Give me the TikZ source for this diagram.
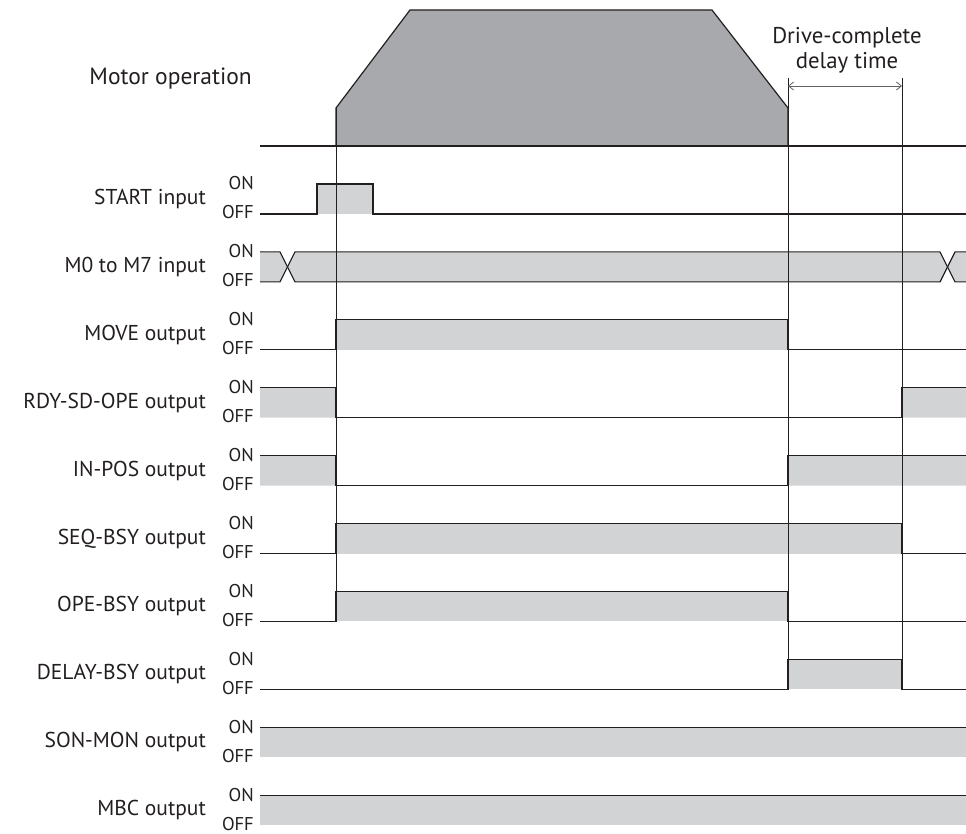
\documentclass[tikz,border=0pt]{standalone}
\usepackage{fontspec}
\setmainfont{PT Sans}
\usetikzlibrary{arrows.meta}
\definecolor{linegray}{HTML}{231F20}
\definecolor{sigfill}{HTML}{D1D3D4}
\definecolor{motorfill}{HTML}{A7A9AC}

\begin{document}
\begin{tikzpicture}[x=1pt, y=-1pt, color=linegray,
  wave/.style={draw=linegray, line width=1.2pt},
  marker/.style={draw=linegray, line width=0.9pt},
  sig/.style={fill=sigfill},
  dimarrow/.style={draw=linegray!70, line width=0.8pt, {Straight Barb[length=5pt,width=8pt]}-{Straight Barb[length=5pt,width=8pt]}},
  rowlabel/.style={anchor=east, inner sep=0pt, font=\fontsize{21.5}{26}\selectfont},
  levlabel/.style={anchor=east, inner sep=0pt, font=\fontsize{18.5}{22}\selectfont}]
\useasboundingbox (0,0) rectangle (966,834);

% signal names and levels
\node[rowlabel, font=\fontsize{23.5}{28}\selectfont] (motor) at (252,79) {Motor operation};
\foreach \i/\txt in {0/START input, 1/M0 to M7 input, 2/MOVE output,
    3/RDY-SD-OPE output, 4/IN-POS output, 5/SEQ-BSY output,
    6/OPE-BSY output, 7/DELAY-BSY output, 8/SON-MON output, 9/MBC output}{
  \pgfmathsetmacro\yon{184+67.9*\i}
  \node[rowlabel] (lbl\i) at (206,\yon+15) {\txt};
  \node[levlabel] (on\i) at (254,\yon-0.5) {ON};
  \node[levlabel] (off\i) at (254,\yon+28.5) {OFF};
}

% motor operation
\fill[motorfill] (336,146) -- (336,108) -- (410,10) -- (712,10) -- (788,108) -- (788,146) -- cycle;
\draw[wave] (260,146) -- (966,146);
\draw[wave] (336,146) -- (336,108) -- (410,10) -- (712,10) -- (788,108) -- (788,146);

% START input
\begin{scope}[shift={(0,184)}]
\fill[sig] (317,0) rectangle (373,30);
\draw[wave] (260,30) -| (317,0) -| (373,30) -- (966,30);
\end{scope}

% M0 to M7 input
\begin{scope}[shift={(0,184+67.9*1)}]
\fill[sig] (260,0) -- (280,0) -- (287.5,15) -- (295,0) -- (940,0) -- (947.5,15) -- (955,0) -- (966,0)
  -- (966,30) -- (955,30) -- (947.5,15) -- (940,30) -- (295,30) -- (287.5,15) -- (280,30) -- (260,30) -- cycle;
\draw[wave] (260,0) -- (280,0) -- (295,30) -- (940,30) -- (955,0) -- (966,0);
\draw[wave] (260,30) -- (280,30) -- (295,0) -- (940,0) -- (955,30) -- (966,30);
\end{scope}

% MOVE output
\begin{scope}[shift={(0,184+67.9*2)}]
\fill[sig] (336,0) rectangle (788,30);
\draw[wave] (260,30) -| (336,0) -| (788,30) -- (966,30);
\end{scope}

% RDY-SD-OPE output
\begin{scope}[shift={(0,184+67.9*3)}]
\fill[sig] (260,0) rectangle (336,30) (902,0) rectangle (966,30);
\draw[wave] (260,0) -| (336,30) -| (902,0) -- (966,0);
\end{scope}

% IN-POS output
\begin{scope}[shift={(0,184+67.9*4)}]
\fill[sig] (260,0) rectangle (336,30) (788,0) rectangle (966,30);
\draw[wave] (260,0) -| (336,30) -| (788,0) -- (966,0);
\end{scope}

% SEQ-BSY output
\begin{scope}[shift={(0,184+67.9*5)}]
\fill[sig] (336,0) rectangle (902,30);
\draw[wave] (260,30) -| (336,0) -| (902,30) -- (966,30);
\end{scope}

% OPE-BSY output
\begin{scope}[shift={(0,184+67.9*6)}]
\fill[sig] (336,0) rectangle (788,30);
\draw[wave] (260,30) -| (336,0) -| (788,30) -- (966,30);
\end{scope}

% DELAY-BSY output
\begin{scope}[shift={(0,184+67.9*7)}]
\fill[sig] (788,0) rectangle (902,30);
\draw[wave] (260,30) -| (788,0) -| (902,30) -- (966,30);
\end{scope}

% SON-MON and MBC output
\foreach \i in {8,9}{
  \begin{scope}[shift={(0,184+67.9*\i)}]
  \fill[sig] (260,0) rectangle (966,30);
  \draw[wave] (260,0) -- (966,0);
  \end{scope}
}

% timing markers
\draw[marker] (336,108) -- (336,621.4);
\draw[marker] (788,78) -- (788,689.3);
\draw[marker] (902,78) -- (902,689.3);

% drive-complete delay time
\coordinate (dl) at (788,86);
\coordinate (dr) at (902,86);
\draw[dimarrow] (dl) -- (dr);
\node[align=center, inner sep=0pt, font=\fontsize{22.8}{25}\selectfont] (delay) at (847,50) {Drive-complete\\delay time};
\end{tikzpicture}
\end{document}
